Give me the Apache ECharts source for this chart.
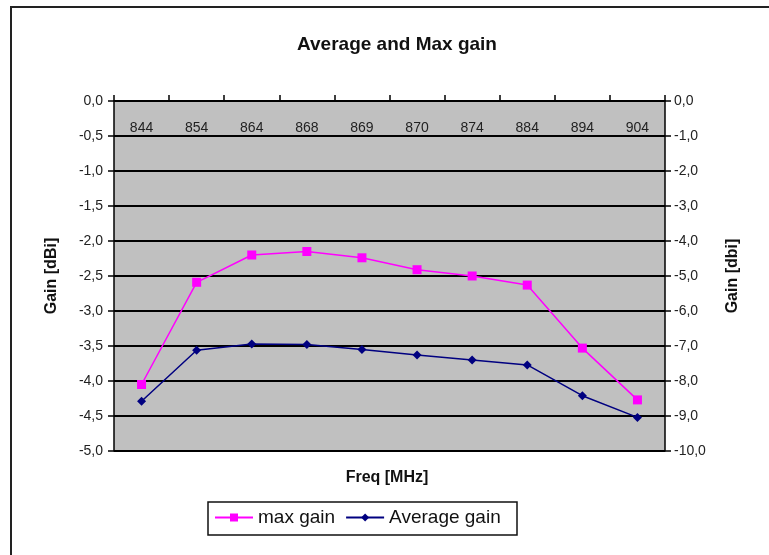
<!DOCTYPE html>
<html><head><meta charset="utf-8">
<script src="https://cdn.jsdelivr.net/npm/echarts@6/dist/echarts.min.js"></script>
<style>html,body{margin:0;padding:0;background:#fff}#c{width:769px;height:555px}</style>
</head><body><div id="c"></div>
<script>
var categories = ['844','854','864','868','869','870','874','884','894','904'];
var maxGain = [-4.05,-2.59,-2.20,-2.15,-2.24,-2.41,-2.50,-2.63,-3.53,-4.27];
var avgGain = [-4.29,-3.56,-3.47,-3.48,-3.55,-3.63,-3.70,-3.77,-4.21,-4.52];
var fmt = function(v){ return v.toFixed(1).replace('.', ','); };
var F = 'Liberation Sans, Arial, sans-serif';
var chart = echarts.init(document.getElementById('c'));
chart.setOption({
  animation:false,
  backgroundColor:'#fff',
  textStyle:{fontFamily:F},
  graphic:[
    {type:'rect',shape:{x:11,y:7,width:800,height:600},style:{fill:null,stroke:'#222',lineWidth:2},silent:true,z:-1},
    {type:'rect',shape:{x:208,y:502,width:309,height:33},style:{fill:'#fff',stroke:'#111',lineWidth:1.5},silent:true,z:0},
    {type:'text',x:387,y:478,style:{text:'Freq [MHz]',font:'bold 16px '+F,fill:'#111',textAlign:'center',textVerticalAlign:'middle'},silent:true}
  ],
  title:{text:'Average and Max gain',left:392,textAlign:'center',top:30,textStyle:{fontFamily:F,fontSize:19,fontWeight:'bold',color:'#111'}},
  grid:{left:114,right:104,top:101,bottom:104,show:true,backgroundColor:'#c0c0c0',borderWidth:0},
  legend:{
    left:214, top:508, padding:0,
    itemWidth:38, itemHeight:10, itemGap:10,
    textStyle:{fontFamily:F,fontSize:19,color:'#111'},
    data:['max gain','Average gain'], z:5
  },
  xAxis:{
    type:'category', data:categories, position:'top',
    axisLine:{lineStyle:{color:'#000',width:1.5}},
    axisTick:{show:true,inside:false,length:6,lineStyle:{color:'#000',width:1.5}},
    axisLabel:{inside:true,margin:20,fontFamily:F,fontSize:14,color:'#222',interval:0},
    splitLine:{show:false}
  },
  yAxis:[{
    type:'value', min:-5, max:0, interval:0.5, position:'left',
    name:'Gain [dBi]', nameLocation:'middle', nameGap:54, nameRotate:90,
    nameTextStyle:{fontFamily:F,fontSize:16,fontWeight:'bold',color:'#111'},
    axisLine:{show:true,lineStyle:{color:'#000',width:1.5}},
    axisTick:{show:true,length:6,lineStyle:{color:'#000',width:1.5}},
    axisLabel:{formatter:fmt,fontFamily:F,fontSize:14,color:'#222',margin:11},
    splitLine:{show:true,lineStyle:{color:'#000',width:2}}
  },{
    type:'value', min:-10, max:0, interval:1, position:'right',
    name:'Gain [dbi]', nameLocation:'middle', nameGap:60, nameRotate:90,
    nameTextStyle:{fontFamily:F,fontSize:16,fontWeight:'bold',color:'#111'},
    axisLine:{show:true,lineStyle:{color:'#000',width:1.5}},
    axisTick:{show:true,length:6,lineStyle:{color:'#000',width:1.5}},
    axisLabel:{formatter:fmt,fontFamily:F,fontSize:14,color:'#222',margin:9},
    splitLine:{show:false}
  }],
  series:[{
    name:'max gain', type:'line', yAxisIndex:0, data:maxGain,
    symbol:'rect', symbolSize:9, itemStyle:{color:'#ff00ff'},
    lineStyle:{color:'#ff00ff',width:1.5}
  },{
    name:'Average gain', type:'line', yAxisIndex:0, data:avgGain,
    symbol:'diamond', symbolSize:9, itemStyle:{color:'#000080'},
    lineStyle:{color:'#000080',width:1.5}
  }]
});
</script></body></html>
